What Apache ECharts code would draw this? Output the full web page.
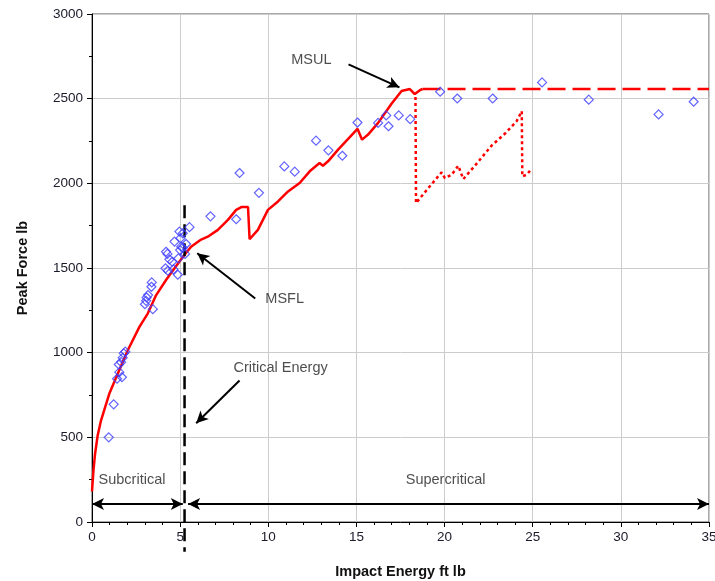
<!DOCTYPE html>
<html>
<head>
<meta charset="utf-8">
<script src="https://cdn.jsdelivr.net/npm/echarts@6/dist/echarts.min.js"></script>
<style>html,body{margin:0;padding:0;background:#fff}#c{width:715px;height:581px}</style>
</head>
<body>
<div id="c"></div>
<script>
// ---- data ----
const xTicks = [0, 5, 10, 15, 20, 25, 30, 35];
const yTicks = [0, 500, 1000, 1500, 2000, 2500, 3000];

// measured test points (impact energy, peak force)
const testPoints = [
  [0.95, 500], [1.23, 695],
  [1.42, 846], [1.55, 885], [1.7, 855], [1.52, 930], [1.65, 944], [1.74, 970], [1.8, 996], [1.89, 1006],
  [3.0, 1286], [3.07, 1306], [3.1, 1326], [3.18, 1340], [3.37, 1389], [3.39, 1415], [3.45, 1257],
  [4.17, 1498], [4.3, 1484], [4.62, 1492], [4.87, 1460], [4.2, 1596], [4.28, 1583], [4.39, 1551],
  [4.55, 1537], [4.9, 1557], [5.0, 1606], [5.06, 1626], [4.68, 1656], [5.02, 1676], [5.15, 1705],
  [4.96, 1715], [5.28, 1583], [5.34, 1642], [5.15, 1620], [5.53, 1741],
  [6.72, 1805], [8.18, 1788], [8.37, 2061], [9.47, 1944], [10.91, 2100], [11.5, 2069],
  [12.71, 2252], [13.41, 2195], [14.2, 2163], [15.06, 2359], [16.23, 2357], [16.69, 2401],
  [16.82, 2337], [17.4, 2401], [18.05, 2379], [19.75, 2541], [20.72, 2501], [22.73, 2501],
  [25.53, 2596], [28.18, 2494], [32.14, 2407], [34.13, 2482]
];

// MSFL model curve (solid)
const msflCurve = [
  [0, 180], [0.08, 300], [0.17, 400], [0.32, 510], [0.51, 599], [0.75, 680], [0.98, 757],
  [1.46, 875], [2.03, 1014], [2.69, 1152], [3.16, 1231], [3.64, 1340], [4.2, 1429], [4.68, 1498],
  [5.24, 1577], [5.62, 1626], [6.19, 1668], [6.57, 1685], [7.14, 1725], [7.71, 1784], [8.18, 1843],
  [8.47, 1860], [8.85, 1860], [8.94, 1670], [9.41, 1725], [9.98, 1843], [10.55, 1893], [11.12, 1952],
  [11.78, 2002], [12.35, 2071], [12.91, 2120], [13.1, 2104], [13.39, 2130], [13.96, 2199],
  [14.53, 2262], [15.06, 2322], [15.32, 2258], [15.66, 2288], [16.23, 2357], [16.99, 2470],
  [17.56, 2545], [18.03, 2557], [18.31, 2527], [18.6, 2550], [18.75, 2557]
];

// MSUL upper limit (long dashes)
const msulLine = [[18.75, 2557], [35, 2557]];

// supercritical branch (dotted)
const superCurve = [
  [18.35, 2510], [18.38, 1883], [19.1, 1975], [19.83, 2065], [20.02, 2031], [20.4, 2051],
  [20.78, 2104], [21.06, 2025], [21.72, 2104], [22.67, 2223], [23.43, 2294], [24.09, 2367],
  [24.38, 2426], [24.41, 2041], [24.66, 2051], [24.9, 2081]
];

// critical energy marker
const criticalLine = [[5.25, 1870], [5.25, -175]];

// annotation texts
const labels = [
  { text: 'MSUL', at: [12.44, 2730] },
  { text: 'MSFL', at: [10.93, 1314] },
  { text: 'Critical Energy', at: [10.7, 908] },
  { text: 'Subcritical', at: [2.27, 248] },
  { text: 'Supercritical', at: [20.06, 248] }
];

// single-headed arrows [from, to]
const arrows = [
  [[14.55, 2703], [17.44, 2567]],
  [[9.26, 1320], [5.97, 1587]],
  [[8.37, 836], [5.91, 583]]
];
// double-headed arrows
const spans = [
  [[0, 106], [5.15, 106]],
  [[5.45, 106], [35, 106]]
];

const FONT = '"Liberation Sans", Arial, sans-serif';
const chart = echarts.init(document.getElementById('c'));

chart.setOption({
  animation: false,
  backgroundColor: '#fff',
  grid: { left: 92, right: 6, top: 14, bottom: 59, show: true, borderColor: '#555', borderWidth: 1,
    backgroundColor: 'transparent', containLabel: false, outerBoundsMode: 'none' },
  xAxis: {
    type: 'value', min: 0, max: 35, interval: 5,
    name: 'Impact Energy ft lb', nameLocation: 'middle', nameGap: 42,
    nameTextStyle: { fontFamily: FONT, fontWeight: 'bold', fontSize: 14.5, color: '#111' },
    axisLine: { lineStyle: { color: '#000', width: 1 } },
    axisTick: { show: true, length: 5, lineStyle: { color: '#000' } },
    minorTick: { show: true, splitNumber: 5, length: 3, lineStyle: { color: '#000' } },
    axisLabel: { fontFamily: FONT, fontSize: 13.5, color: '#1a1a2a', margin: 8,
      formatter: v => String(v) },
    splitLine: { show: true, lineStyle: { color: '#cccccc', width: 1 } }
  },
  yAxis: {
    type: 'value', min: 0, max: 3000, interval: 500,
    name: 'Peak Force lb', nameLocation: 'middle', nameGap: 62,
    nameTextStyle: { fontFamily: FONT, fontWeight: 'bold', fontSize: 14.5, color: '#111' },
    axisLine: { show: true, lineStyle: { color: '#000', width: 1 } },
    axisTick: { show: true, length: 5, lineStyle: { color: '#000' } },
    minorTick: { show: true, splitNumber: 2, length: 3, lineStyle: { color: '#000' } },
    axisLabel: { fontFamily: FONT, fontSize: 13.5, color: '#1a1a2a', margin: 9,
      formatter: v => String(v) },
    splitLine: { show: true, lineStyle: { color: '#cccccc', width: 1 } }
  },
  series: [
    {
      type: 'line', data: msflCurve, symbol: 'none', silent: true,
      lineStyle: { color: '#ff0000', width: 2.5 }, z: 3
    },
    {
      type: 'line', data: msulLine, symbol: 'none', silent: true,
      lineStyle: { color: '#ff0000', width: 2.5, type: [18, 7] }, z: 3
    },
    {
      type: 'line', data: superCurve, symbol: 'none', silent: true,
      lineStyle: { color: '#ff0000', width: 2.5, type: [3, 3] }, z: 3
    },
    {
      type: 'line', data: criticalLine, symbol: 'none', silent: true, clip: false,
      lineStyle: { color: '#000', width: 2.5, type: [13, 6] }, z: 4
    },
    {
      type: 'scatter', data: testPoints, symbol: 'diamond', symbolSize: 9, silent: true,
      itemStyle: { color: 'rgba(0,0,0,0)', borderColor: '#3c3cff', borderWidth: 1.2 }, z: 5
    },
    {
      type: 'scatter', silent: true, symbolSize: 0,
      data: labels.map(l => ({ value: l.at, name: l.text })),
      label: { show: true, position: 'inside', formatter: p => p.name,
        fontFamily: FONT, fontSize: 14.5, color: '#222' },
      z: 6,
      markLine: {
        silent: true, animation: false,
        symbol: ['none', 'arrow'], symbolSize: [9, 12],
        label: { show: false },
        lineStyle: { color: '#000', width: 2, type: 'solid' },
        data: arrows.map(a => [{ coord: a[0] }, { coord: a[1] }])
          .concat(spans.map(s => [{ coord: s[0], symbol: 'arrow' }, { coord: s[1], symbol: 'arrow' }]))
      }
    }
  ]
});
</script>
</body>
</html>
